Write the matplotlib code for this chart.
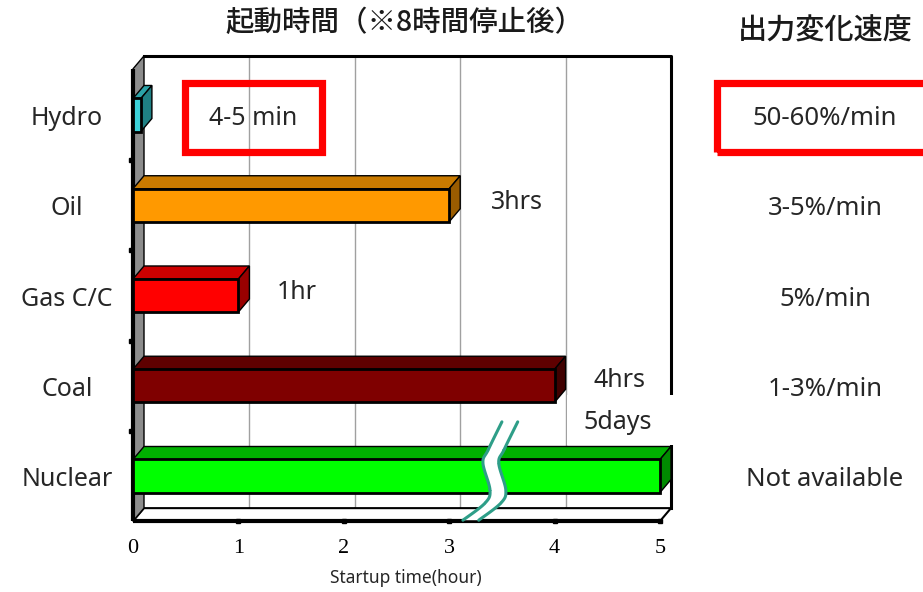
import numpy as np
import matplotlib
matplotlib.use("Agg")
import matplotlib.pyplot as plt
from matplotlib.patches import Polygon, Rectangle
from matplotlib.transforms import blended_transform_factory

# ---------------- data ----------------
categories = ["Hydro", "Oil", "Gas C/C", "Coal", "Nuclear"]
startup_hours = [0.075, 3, 1, 4, 5]          # nuclear bar truncated (actual: 5 days)
startup_labels = ["4-5 min", "3hrs", "1hr", "4hrs", "5days"]
ramp_rates = ["50-60%/min", "3-5%/min", "5%/min", "1-3%/min", "Not available"]
x_ticks = [0, 1, 2, 3, 4, 5]
title_left = "起動時間（※8時間停止後）"
title_right = "出力変化速度"
x_label = "Startup time(hour)"

front_colors = ["#3CD2DA", "#FF9900", "#FF0000", "#7F0000", "#00FF00"]
top_colors = ["#2BA3A8", "#C97A00", "#CC0000", "#5E0000", "#00B000"]
side_colors = ["#1F8084", "#9A5C00", "#990000", "#400000", "#008A00"]

plt.rcParams['font.family'] = ['Noto Sans', 'Noto Sans CJK JP', 'DejaVu Sans']
CJK = ['Noto Sans CJK JP', 'DejaVu Sans']

fig = plt.figure(figsize=(9.23, 5.92), dpi=100)
ax = fig.add_axes([100 / 923, 1 - 540 / 592, 600 / 923, 500 / 592])
ax.set_xlim(-0.3131, 5.3795)
ax.set_ylim(4.709, -0.831)
ax.axis("off")

n = len(categories)
DX = 11 / 105.4      # depth offset (x units)
DY = 13 / 90.25      # depth offset (y units, upward)
H = 0.366            # bar thickness
floor_y = n - 0.5
top_y = -0.655
xmax = max(x_ticks)

# back wall
ax.add_patch(Polygon([(DX, top_y), (xmax + DX, top_y), (xmax + DX, floor_y - DY), (DX, floor_y - DY)],
                     closed=True, facecolor="white", edgecolor="none", zorder=0))
for k in x_ticks[1:-1]:
    ax.plot([k + DX, k + DX], [top_y, floor_y - DY], color="#A0A0A0", lw=1.0, zorder=1)
    ax.plot([k, k + DX], [floor_y, floor_y - DY], color="#606060", lw=1.0, zorder=1)
ax.plot([DX, xmax + DX, xmax + DX], [top_y, top_y, floor_y - DY], color="black", lw=2.2, zorder=1)

# floor
ax.add_patch(Polygon([(0, floor_y), (xmax, floor_y), (xmax + DX, floor_y - DY), (DX, floor_y - DY)],
                     closed=True, facecolor="white", edgecolor="black", lw=1.5, zorder=1))
ax.plot([0, xmax], [floor_y, floor_y], color="black", lw=3, zorder=2, solid_capstyle="butt")
for k in x_ticks[1:]:
    ax.plot([k], [floor_y], marker="s", ms=3, color="black", zorder=3)

# left wall
ax.add_patch(Polygon([(0, top_y + DY), (DX, top_y), (DX, floor_y - DY), (0, floor_y)],
                     closed=True, facecolor="#8C8C8C", edgecolor="black", lw=1.0, zorder=1))
ax.plot([0, 0], [top_y + DY, floor_y], color="black", lw=3, zorder=2, solid_capstyle="butt")
for i in range(n - 1):
    ax.plot([-0.02], [i + 0.5], marker="s", ms=3, color="black", zorder=3)

# white panel behind the "5days" label (hides border as in the original)
ax.add_patch(Rectangle((4.115, 3.10), 1.15, 0.56, facecolor="white", edgecolor="none", zorder=2))

# bars
for i, (v, fc, tc, sc) in enumerate(zip(startup_hours, front_colors, top_colors, side_colors)):
    y0, y1 = i - H / 2, i + H / 2   # top / bottom in data (inverted axis)
    ax.add_patch(Polygon([(0, y0), (v, y0), (v + DX, y0 - DY), (DX, y0 - DY)], closed=True,
                         facecolor=tc, edgecolor="black", lw=1.0, zorder=4))
    ax.add_patch(Polygon([(v, y0), (v + DX, y0 - DY), (v + DX, y1 - DY), (v, y1)], closed=True,
                         facecolor=sc, edgecolor="black", lw=1.0, zorder=4))
    ax.add_patch(Rectangle((0, y0), v, H, facecolor=fc, edgecolor="black", lw=2.0, zorder=5))

# axis break on the nuclear bar
def smooth(pts, m=16):
    p = np.vstack([pts[0], pts, pts[-1]])
    out = []
    for j in range(1, len(p) - 2):
        p0, p1, p2, p3 = p[j - 1], p[j], p[j + 1], p[j + 2]
        t = np.linspace(0, 1, m)[:, None]
        out.append(0.5 * ((2 * p1) + (-p0 + p2) * t + (2 * p0 - 5 * p1 + 4 * p2 - p3) * t ** 2
                          + (-p0 + 3 * p1 - 3 * p2 + p3) * t ** 3))
    return np.vstack(out)

brk_x, brk_i = 3.4, n - 1
shape = np.array([[0.10, -0.60], [-0.03, -0.29], [-0.08, -0.144], [-0.013, 0.155],
                  [-0.06, 0.30], [-0.27, 0.49]])
l1 = smooth(shape + [brk_x, brk_i])
l2 = smooth(shape + [brk_x + 0.15, brk_i])
ax.add_patch(Polygon(np.vstack([l1, l2[::-1]]), closed=True, facecolor="white", edgecolor="none", zorder=6))
for l in (l1, l2):
    ax.plot(l[:, 0], l[:, 1], color="#2E9E88", lw=2.2, zorder=7, solid_capstyle="round")

# value labels
lab_pos = [(1.14, 0.04), (3.64, 0.975), (1.556, 1.97), (4.62, 2.94), (4.60, 3.41)]
txt_c = "#262626"
for i, (lab, (lx, ly)) in enumerate(zip(startup_labels, lab_pos)):
    ax.text(lx, ly, lab, ha="center", va="center", fontsize=18, color=txt_c, zorder=8)

# category labels and ramp rates
bt = blended_transform_factory(fig.transFigure, ax.transData)
for i, c in enumerate(categories):
    ax.text(67 / 923, i + 0.04, c, transform=bt, ha="center", va="center", fontsize=18, color=txt_c)
    ax.text(825 / 923, i + 0.04, ramp_rates[i], transform=bt, ha="center", va="center",
            fontsize=18.5, color=txt_c)

# x tick labels
for k in x_ticks:
    ax.text(k, 4.80, str(k), ha="center", va="center", fontsize=16, family="Liberation Serif",
            color="black", clip_on=False)
fig.text(406 / 923, 1 - 578 / 592, x_label, ha="center", va="center", fontsize=12.5, color=txt_c)

# titles
fig.text(405 / 923, 1 - 22 / 592, title_left, ha="center", va="center", fontsize=20.5,
         family=CJK, fontweight="medium", color="#1A1A1A")
fig.text(825 / 923, 1 - 31 / 592, title_right, ha="center", va="center", fontsize=21,
         family=CJK, fontweight="medium", color="#1A1A1A")

# red highlight boxes
for (x0, y0, x1, y1) in [(184.5, 83.5, 321.5, 151.5), (716.5, 83.5, 930, 151.5)]:
    fig.add_artist(Rectangle((x0 / 923, 1 - y1 / 592), (x1 - x0) / 923, (y1 - y0) / 592,
                             transform=fig.transFigure, facecolor="none", edgecolor="#FF0000",
                             lw=5.2, zorder=10))

fig.savefig("out.png", dpi=100, facecolor="white")
